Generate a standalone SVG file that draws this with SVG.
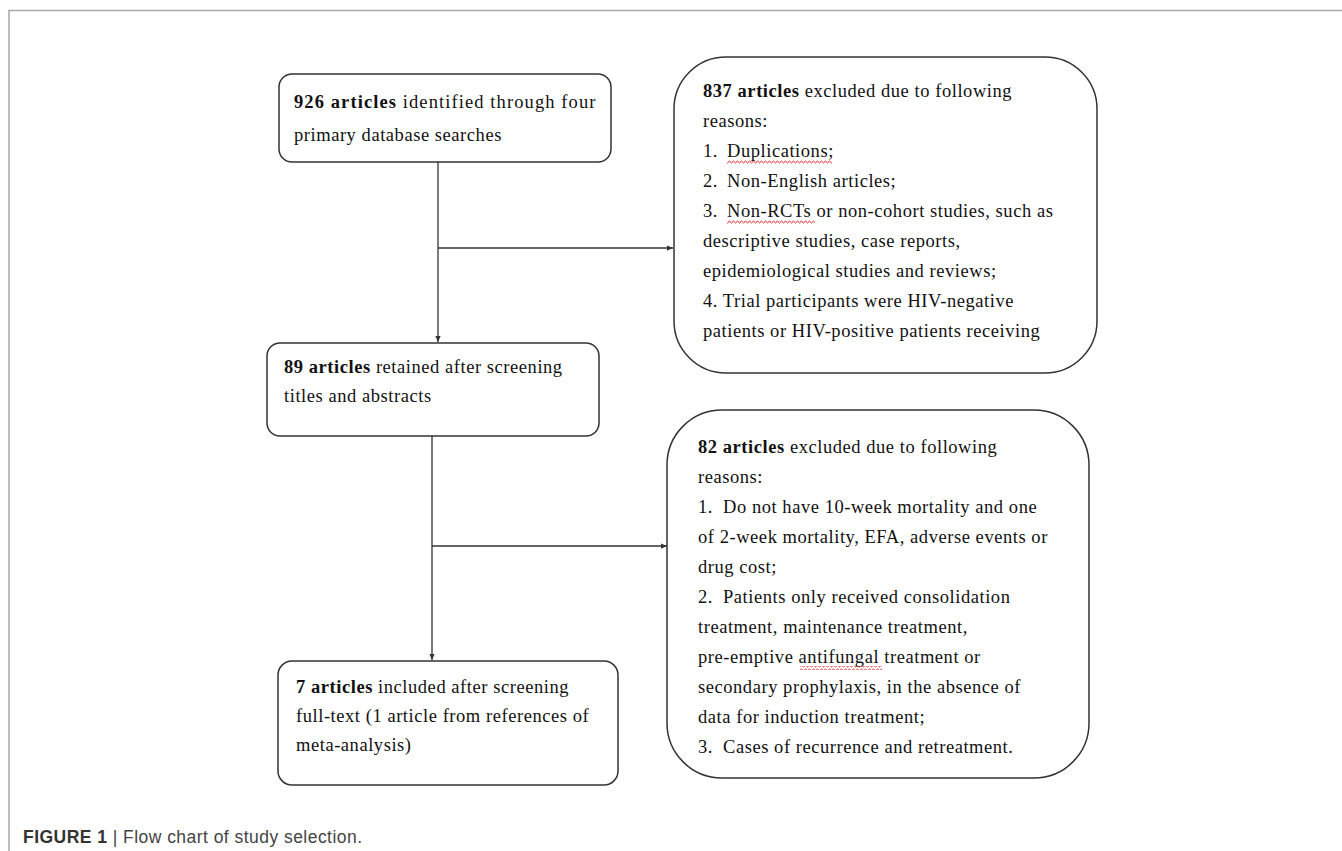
<svg xmlns="http://www.w3.org/2000/svg" width="1342" height="851" viewBox="0 0 1342 851">
<style>
.box{fill:#fff;stroke:#333;stroke-width:1.5}
.t{font-family:"Liberation Serif","Times New Roman",serif;font-size:18.5px;letter-spacing:0.55px;fill:#111}
.b{font-weight:bold}
.con{fill:none;stroke:#333;stroke-width:1.3}
.cap{font-family:"Liberation Sans",Arial,sans-serif;font-size:17.5px;fill:#444}
</style>
<defs>
<marker id="arr" viewBox="0 0 8 8" refX="8" refY="4" markerWidth="6" markerHeight="6" markerUnits="userSpaceOnUse" orient="auto">
<path d="M0,0.5 L8,4 L0,7.5 z" fill="#333"/>
</marker>
<pattern id="wave" x="0" y="0" width="4" height="4" patternUnits="userSpaceOnUse">
<path d="M0,3 L1,1 L2,1 L3,3 L4,3" fill="none" stroke="#e03030" stroke-width="0.8"/>
</pattern>
</defs>
<rect width="1342" height="851" fill="#fff"/>
<path d="M9,851 V10.5 H1342" fill="none" stroke="#a8a8a8" stroke-width="1.5"/>

<g id="connectors">
<line class="con" x1="438" y1="162" x2="438" y2="342" marker-end="url(#arr)"/>
<line class="con" x1="438" y1="248" x2="673" y2="248" marker-end="url(#arr)"/>
<line class="con" x1="432" y1="436" x2="432" y2="660" marker-end="url(#arr)"/>
<line class="con" x1="432" y1="546" x2="667" y2="546" marker-end="url(#arr)"/>
</g>

<g id="node-identified">
<rect class="box" x="279" y="74" width="332" height="88" rx="13"/>
<text class="t" x="294" y="108" textLength="302" lengthAdjust="spacing"><tspan class="b">926 articles</tspan> identified through four</text>
<text class="t" x="294" y="141">primary database searches</text>
</g>

<g id="node-excluded-837">
<rect class="box" x="674" y="57" width="423" height="316" rx="52"/>
<text class="t" x="703" y="97"><tspan class="b">837 articles</tspan> excluded due to following</text>
<text class="t" x="703" y="127">reasons:</text>
<text class="t" x="703" y="157">1.  <tspan x="727">Duplications;</tspan></text>
<text class="t" x="703" y="187">2.  <tspan x="727">Non-English articles;</tspan></text>
<text class="t" x="703" y="217">3.  <tspan x="727">Non-RCTs or non-cohort studies, such as</tspan></text>
<text class="t" x="703" y="247">descriptive studies, case reports,</text>
<text class="t" x="703" y="277">epidemiological studies and reviews;</text>
<text class="t" x="703" y="307">4. Trial participants were HIV-negative</text>
<text class="t" x="703" y="337">patients or HIV-positive patients receiving</text>
<rect x="727" y="160" width="105" height="4" fill="url(#wave)"/>
<rect x="727" y="220" width="88" height="4" fill="url(#wave)"/>
</g>

<g id="node-retained">
<rect class="box" x="267" y="343" width="332" height="93" rx="13"/>
<text class="t" x="284" y="373"><tspan class="b">89 articles</tspan> retained after screening</text>
<text class="t" x="284" y="402">titles and abstracts</text>
</g>

<g id="node-excluded-82">
<rect class="box" x="667" y="410" width="422" height="368" rx="55"/>
<text class="t" x="698" y="453"><tspan class="b">82 articles</tspan> excluded due to following</text>
<text class="t" x="698" y="483">reasons:</text>
<text class="t" x="698" y="513">1.  <tspan x="723">Do not have 10-week mortality and one</tspan></text>
<text class="t" x="698" y="543">of 2-week mortality, EFA, adverse events or</text>
<text class="t" x="698" y="573">drug cost;</text>
<text class="t" x="698" y="603">2.  <tspan x="723">Patients only received consolidation</tspan></text>
<text class="t" x="698" y="633">treatment, maintenance treatment,</text>
<text class="t" x="698" y="663">pre-emptive antifungal treatment or</text>
<text class="t" x="698" y="693">secondary prophylaxis, in the absence of</text>
<text class="t" x="698" y="723">data for induction treatment;</text>
<text class="t" x="698" y="753">3.  <tspan x="723">Cases of recurrence and retreatment.</tspan></text>
<rect x="800" y="666" width="82" height="4" fill="url(#wave)"/>
</g>

<g id="node-included">
<rect class="box" x="278" y="661" width="340" height="124" rx="14"/>
<text class="t" x="296" y="693"><tspan class="b">7 articles</tspan> included after screening</text>
<text class="t" x="296" y="722">full-text (1 article from references of</text>
<text class="t" x="296" y="751">meta-analysis)</text>
</g>

<g id="caption">
<text class="cap" x="23" y="843" textLength="339" lengthAdjust="spacing"><tspan font-weight="bold" fill="#333">FIGURE 1</tspan> | Flow chart of study selection.</text>
</g>
</svg>
